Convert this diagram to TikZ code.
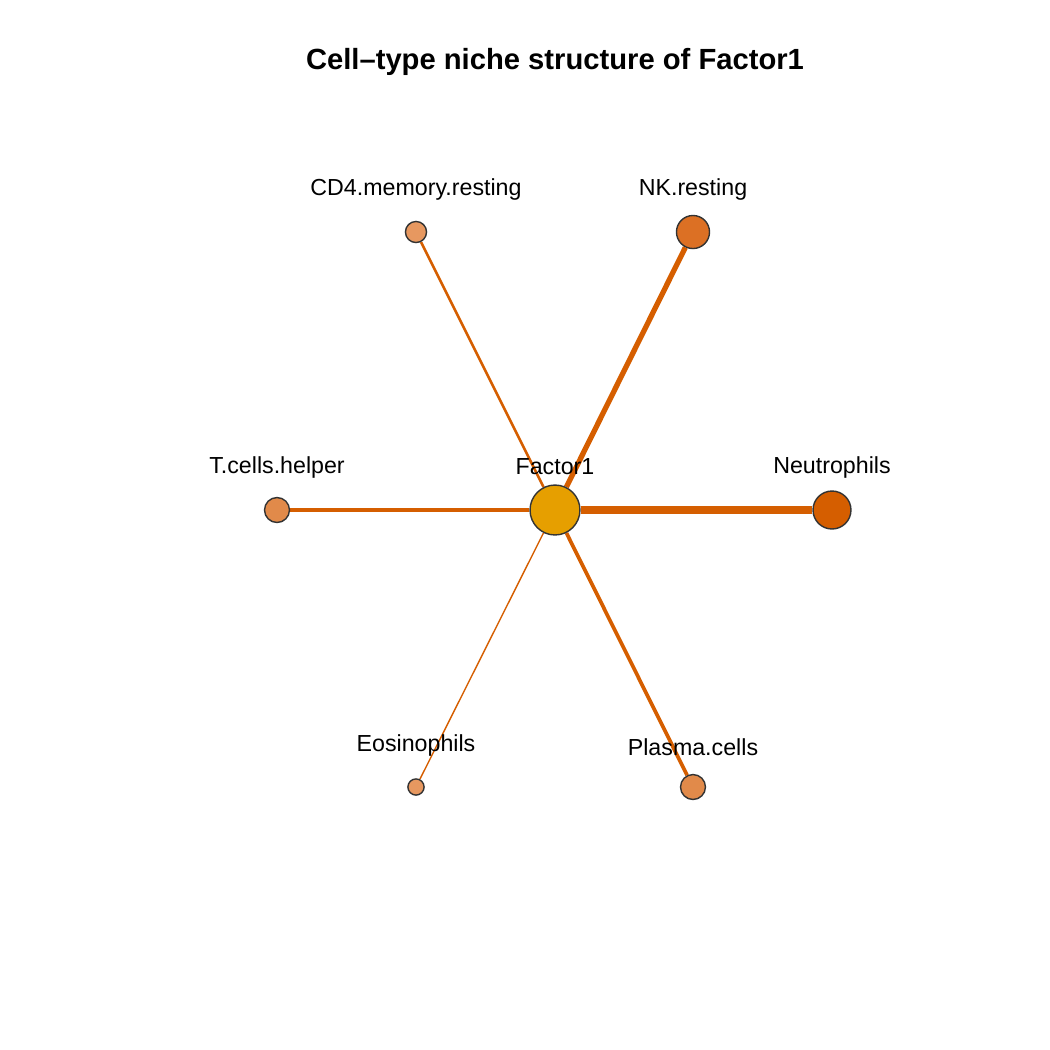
\documentclass[tikz,border=0pt]{standalone}
\usepackage{fontspec}
\setmainfont{Liberation Sans}
\usetikzlibrary{backgrounds}
\begin{document}
\begin{tikzpicture}[x=0.01cm,y=-0.01cm,
  cell/.style={circle,draw=black!80,line width=0.4pt,inner sep=0pt},
  lbl/.style={font=\fontsize{6.6}{8}\selectfont},
  edge/.style={color={rgb,255:red,213;green,94;blue,0}}]
\useasboundingbox (0,0) rectangle (1050,1050);

\definecolor{cfac}{RGB}{230,159,0}
\definecolor{cneu}{RGB}{213,94,0}
\definecolor{cnk}{RGB}{220,112,36}
\definecolor{cmid}{RGB}{225,138,74}
\definecolor{clow}{RGB}{231,152,96}

\node[font=\bfseries\fontsize{8.3}{10}\selectfont] (title) at (555,62) {Cell\textendash type niche structure of Factor1};

\node[cell,fill=cfac,minimum size=14.2pt] (fac) at (555,510) {};
\node[cell,fill=cneu,minimum size=10.8pt] (neu) at (832,510) {};
\node[cell,fill=cnk,minimum size=9.4pt] (nk) at (693,232) {};
\node[cell,fill=clow,minimum size=6pt] (cd4) at (416,232) {};
\node[cell,fill=cmid,minimum size=7.1pt] (tch) at (277,510) {};
\node[cell,fill=clow,minimum size=4.6pt] (eos) at (416,787) {};
\node[cell,fill=cmid,minimum size=7.1pt] (pla) at (693,787) {};

% edges behind the nodes
\begin{scope}[on background layer]
\draw[edge,line width=2.3pt] (fac) -- (neu);
\draw[edge,line width=1.5pt] (fac) -- (nk);
\draw[edge,line width=0.75pt] (fac) -- (cd4);
\draw[edge,line width=0.9pt] (fac) -- (tch);
\draw[edge,line width=0.4pt] (fac) -- (eos);
\draw[edge,line width=1.05pt] (fac) -- (pla);
\end{scope}

\node[lbl] (lfac) at (555,467) {Factor1};
\node[lbl] (lneu) at (832,467) {Neutrophils};
\node[lbl] (lnk) at (693,189) {NK.resting};
\node[lbl] (lcd4) at (416,189) {CD4.memory.resting};
\node[lbl] (ltch) at (277,467) {T.cells.helper};
\node[lbl] (leos) at (416,745) {Eosinophils};
\node[lbl] (lpla) at (693,747) {Plasma.cells};
\end{tikzpicture}
\end{document}
